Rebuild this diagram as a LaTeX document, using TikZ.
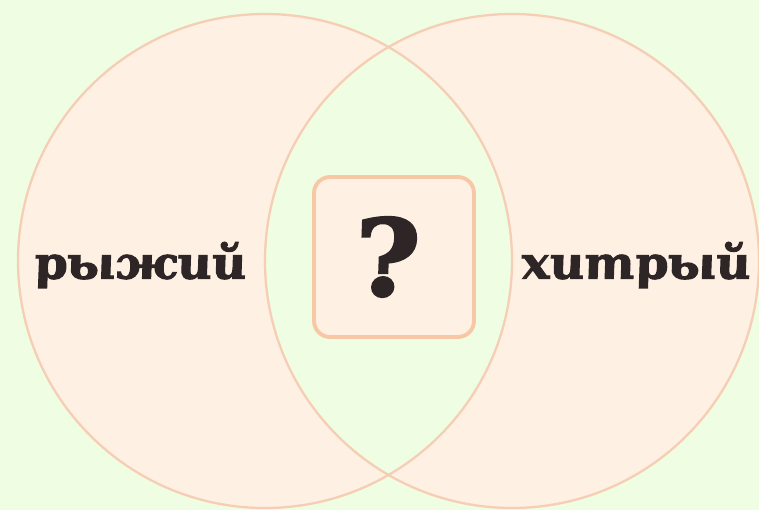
\documentclass[tikz,border=0pt]{standalone}
\usepackage{fontspec}
\newfontfamily\wordfont[FakeStretch=1.06,
  BoldItalicFeatures={FakeSlant=-0.17, FakeBold=2.4}]{DejaVu Serif}
\definecolor{bggreen}{RGB}{239,253,226}
\definecolor{peachfill}{RGB}{254,240,226}
\definecolor{peachline}{RGB}{246,206,182}
\definecolor{boxline}{RGB}{248,200,166}
\definecolor{inkdark}{RGB}{45,37,38}

\begin{document}
\begin{tikzpicture}[x=0.02cm, y=-0.02cm,
    vennset/.style={circle, minimum size=9.88cm, inner sep=0pt, fill=peachfill},
    rim/.style={draw=peachline, line width=1.3pt},
    wordtext/.style={font=\wordfont\bfseries\itshape\fontsize{25.5}{30}\selectfont, text=inkdark, inner sep=0pt},
    qbox/.style={draw=boxline, fill=peachfill, line width=2.2pt, rounded corners=0.32cm,
      minimum size=3.2cm, inner sep=0pt, font=\wordfont\bfseries\itshape\fontsize{60}{70}\selectfont, text=inkdark}]
  \useasboundingbox (0,0) rectangle (759,510);
  \fill[bggreen] (0,0) rectangle (759,510);
  % the two sets
  \node[vennset] (left) at (265,261) {};
  \node[vennset] (right) at (512,261) {};
  % the common part keeps the background colour
  \begin{scope}
    \clip (left.center) circle[radius=247];
    \fill[bggreen] (right.center) circle[radius=247];
  \end{scope}
  \draw[rim] (left.center) circle[radius=247];
  \draw[rim] (right.center) circle[radius=247];
  % words and the question in the middle
  \node[wordtext] (ginger) at (142,265) {рыжий};
  \node[wordtext] (sly) at (638,265) {хитрый};
  \node[qbox] (query) at (394,257) {\raisebox{-4pt}{?}};
\end{tikzpicture}
\end{document}
